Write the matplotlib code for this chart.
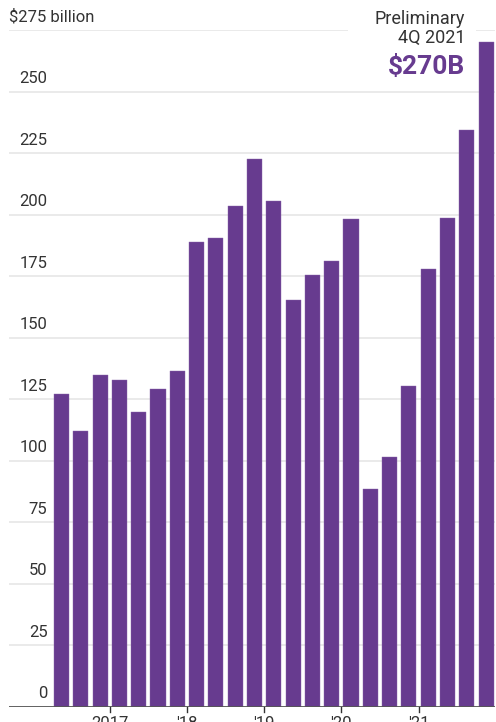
import matplotlib.pyplot as plt
import matplotlib.transforms as mtransforms
import numpy as np

plt.rcParams['font.family'] = ['Roboto', 'DejaVu Sans']

# quarterly values, 2Q 2016 through 4Q 2021, in billions of dollars
quarters = ['2Q16', '3Q16', '4Q16',
            '1Q17', '2Q17', '3Q17', '4Q17',
            '1Q18', '2Q18', '3Q18', '4Q18',
            '1Q19', '2Q19', '3Q19', '4Q19',
            '1Q20', '2Q20', '3Q20', '4Q20',
            '1Q21', '2Q21', '3Q21', '4Q21']
values = [127, 112, 135, 133, 120, 129, 136.5,
          188.7, 190.5, 203.5, 222.7,
          205.7, 165.2, 175.6, 181.3,
          198.3, 88.4, 101.4, 130.4,
          177.8, 198.6, 234.4, 270]
y_ticks = [0, 25, 50, 75, 100, 125, 150, 175, 200, 225, 250, 275]
year_labels = ['2017', "'18", "'19", "'20", "'21"]
year_starts = [3, 7, 11, 15, 19]

purple = '#673b8f'
grey_text = '#333333'

W, H = 496, 722
fig = plt.figure(figsize=(W / 100, H / 100), dpi=100)
ax = fig.add_axes([9 / W, (H - 707) / H, (495 - 9) / W, (707 - 30) / H])

x = np.arange(len(values))
ax.set_xlim(-2.72, 22.46)
ax.set_ylim(0, 275)

for t in y_ticks[1:]:
    ax.axhline(t, color='#e4e4e4', lw=1.1, zorder=0)
ax.bar(x, values, width=0.78, color=purple, edgecolor='#8a66aa', linewidth=0.3, zorder=2)
ax.axhline(0, color='#555555', lw=1.3, zorder=3)

for s in ax.spines.values():
    s.set_visible(False)
ax.set_xticks([])
ax.set_yticks([])

# y-axis labels sit just above their gridlines
lab_tf = mtransforms.offset_copy(ax.transData, fig=fig, x=0, y=4, units='points')
for t in y_ticks[:-1]:
    ax.text(-0.73, t, str(t), transform=lab_tf, ha='right', va='bottom',
            fontsize=12, color=grey_text)
ax.text(-2.72, 275, '$275 billion', transform=lab_tf, ha='left', va='bottom',
        fontsize=12, color=grey_text)

# year ticks below the baseline
for xs, lab in zip(year_starts, year_labels):
    ax.plot([xs - 0.5, xs - 0.5], [0, -2.2], color='#333333', lw=1, clip_on=False)
    ax.text(xs - 0.5, -3.6, lab, ha='center', va='top', fontsize=12, color=grey_text)

# callout for the latest quarter
ax.add_patch(plt.Rectangle((14.85, 255), 6.6, 21, facecolor='white',
                           edgecolor='none', zorder=1, clip_on=False))
ax.text(20.91, 283, 'Preliminary\n4Q 2021', ha='right', va='top', fontsize=13,
        color=grey_text, linespacing=1.05, zorder=4)
ax.text(20.91, 257, '$%dB' % values[-1], ha='right', va='baseline', fontsize=19,
        fontweight='bold', color=purple, zorder=4)

fig.savefig('out.png', dpi=100)
